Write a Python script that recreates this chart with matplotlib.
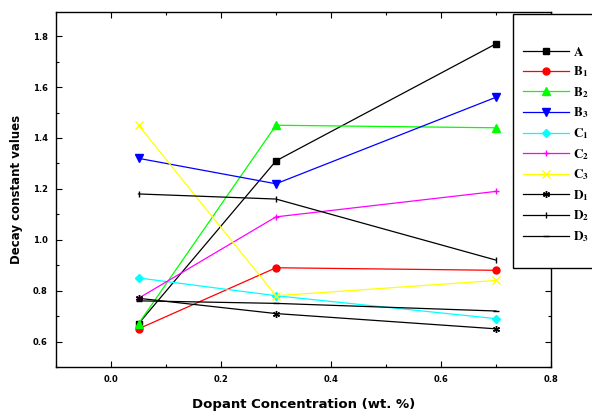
import numpy as np
import matplotlib
matplotlib.use("Agg")
import matplotlib.pyplot as plt
from matplotlib.patches import Rectangle
from matplotlib.ticker import MultipleLocator

plt.rcParams['mathtext.fontset'] = 'stix'

# dopant concentrations (wt. %)
conc = [0.05, 0.3, 0.7]

# decay constant values per sample
A  = [0.67, 1.31, 1.77]
B1 = [0.65, 0.89, 0.88]
B2 = [0.67, 1.45, 1.44]
B3 = [1.32, 1.22, 1.56]
C1 = [0.85, 0.78, 0.69]
C2 = [0.77, 1.09, 1.19]
C3 = [1.45, 0.78, 0.84]
D1 = [0.77, 0.71, 0.65]
D2 = [1.18, 1.16, 0.92]
D3 = [0.76, 0.75, 0.72]

names = ['A', 'B_1', 'B_2', 'B_3', 'C_1', 'C_2', 'C_3', 'D_1', 'D_2', 'D_3']
series = [A, B1, B2, B3, C1, C2, C3, D1, D2, D3]
colors = ['black', 'red', '#00ff00', 'blue', 'cyan', 'magenta', 'yellow',
          'black', 'black', 'black']
markers = ['s', 'o', '^', 'v', 'D', '+', 'x', (6, 2, 0), '|', '_']
sizes = [4, 5, 5.5, 5.5, 4, 5, 5.5, 5, 5, 5]

fig = plt.figure(figsize=(5.92, 4.12), dpi=100)
ax = fig.add_axes([56/592, 1-367/412, (551-56)/592, (367-12)/412])

handles = []
for name, vals, c, m, ms in zip(names, series, colors, markers, sizes):
    h, = ax.plot(conc, vals, color=c, lw=0.9, marker=m, markersize=ms,
                 markeredgecolor=c, markerfacecolor=c, markeredgewidth=1.0,
                 label=r'$\mathbf{%s}$' % name)
    handles.append(h)

ax.set_xlim(-0.1, 0.8)
ax.set_ylim(0.5, 1.895)
ax.xaxis.set_major_locator(MultipleLocator(0.2))
ax.xaxis.set_minor_locator(MultipleLocator(0.1))
ax.yaxis.set_major_locator(MultipleLocator(0.2))
ax.yaxis.set_minor_locator(MultipleLocator(0.1))
ax.tick_params(which='both', direction='in', top=True, right=True, width=0.8)
ax.tick_params(which='major', length=4, labelsize=6, pad=6)
ax.tick_params(which='minor', length=2)
for lab in ax.get_xticklabels() + ax.get_yticklabels():
    lab.set_fontweight('bold')
for sp in ax.spines.values():
    sp.set_linewidth(1.0)

ax.set_xlabel('Dopant Concentration (wt. %)', fontsize=9.5, fontweight='bold', labelpad=10)
ax.set_ylabel('Decay constant values', fontsize=8.5, fontweight='bold', labelpad=7)

# legend box, partly running off the right edge
fig.patches.append(Rectangle((513/592, 1-268/412), 0.3, (268-14)/412,
                             transform=fig.transFigure, fill=True,
                             facecolor='white', edgecolor='black', lw=1.0,
                             zorder=5))
leg = fig.legend(handles=handles, loc='upper left',
                 bbox_to_anchor=(516/592, 1-39/412), frameon=False,
                 fontsize=9.5, handlelength=3.5, handletextpad=0.35,
                 labelspacing=0.44, borderpad=0, numpoints=1)
leg.set_zorder(6)

fig.savefig('out.png', dpi=100)
